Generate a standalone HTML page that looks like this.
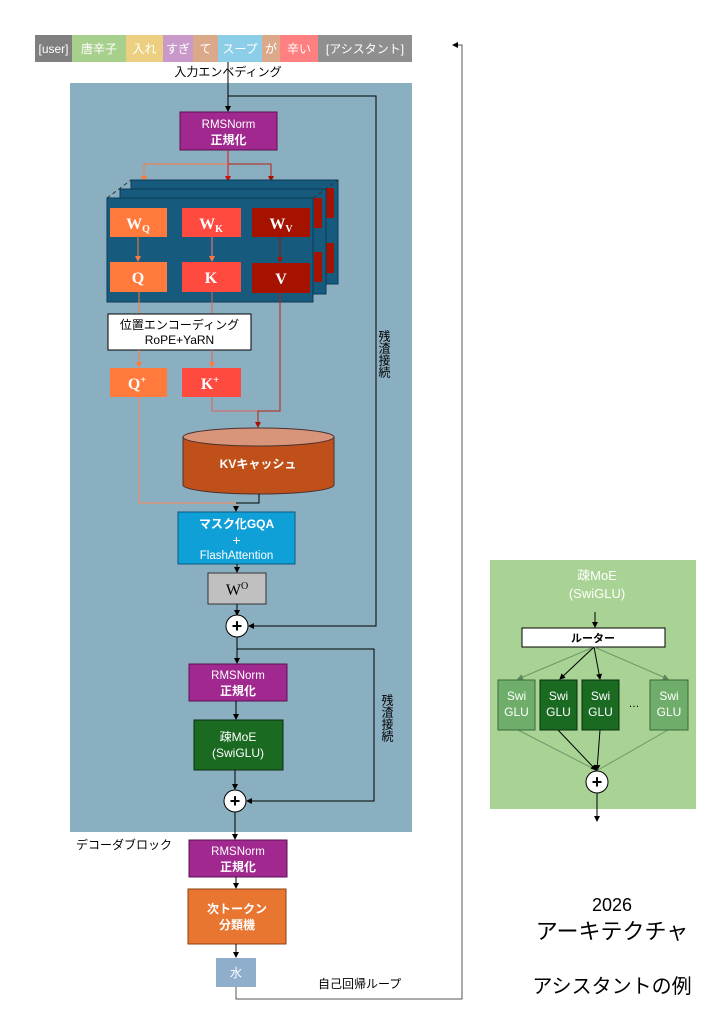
<!DOCTYPE html>
<html><head><meta charset="utf-8"><style>
html,body{margin:0;padding:0;background:#fff;}
svg{display:block;font-family:"Liberation Sans","Noto Sans CJK JP",sans-serif;}
.w{fill:#fff;}
.serif{font-family:"Liberation Serif","Noto Serif CJK SC",serif;font-weight:bold;}
</style></head><body>
<svg width="720" height="1012" viewBox="0 0 720 1012" xmlns="http://www.w3.org/2000/svg">
<defs>
<marker id="a" markerWidth="6" markerHeight="6" refX="5" refY="3" orient="auto"><path d="M0,0L6,3L0,6z" fill="#000"/></marker>
<marker id="ar" markerWidth="6" markerHeight="6" refX="5" refY="3" orient="auto"><path d="M0,0L6,3L0,6z" fill="#d01010"/></marker>
<marker id="ao" markerWidth="6" markerHeight="6" refX="5" refY="3" orient="auto"><path d="M0,0L6,3L0,6z" fill="#ff7a3c"/></marker>
<marker id="ad" markerWidth="6" markerHeight="6" refX="5" refY="3" orient="auto"><path d="M0,0L6,3L0,6z" fill="#a51200"/></marker>
<marker id="ag" markerWidth="6" markerHeight="6" refX="5" refY="3" orient="auto"><path d="M0,0L6,3L0,6z" fill="#5a8a5a"/></marker>
</defs>
<!-- token bar -->
<g font-size="12" text-anchor="middle">
<rect x="35" y="35" width="37" height="27" fill="#7f7f7f"/><text x="53.5" y="53" class="w">[user]</text>
<rect x="72" y="35" width="54" height="27" fill="#a8d08d"/><text x="99" y="53" class="w">唐辛子</text>
<rect x="126" y="35" width="37" height="27" fill="#eccf80"/><text x="144.5" y="53" class="w">入れ</text>
<rect x="163" y="35" width="30" height="27" fill="#c99ac9"/><text x="178" y="53" class="w">すぎ</text>
<rect x="193" y="35" width="25" height="27" fill="#dca88a"/><text x="205.5" y="53" class="w">て</text>
<rect x="218" y="35" width="44" height="27" fill="#8ccde8"/><text x="240" y="53" class="w">スープ</text>
<rect x="262" y="35" width="18" height="27" fill="#dca88a"/><text x="271" y="53" class="w">が</text>
<rect x="280" y="35" width="38" height="27" fill="#ff8080"/><text x="299" y="53" class="w">辛い</text>
<rect x="318" y="35" width="94" height="27" fill="#8f8f8f"/><text x="365" y="53" class="w">[アシスタント]</text>
</g>
<text x="228" y="76" font-size="12" text-anchor="middle">入力エンベディング</text>
<!-- panel -->
<rect x="70" y="83" width="342" height="749" fill="#8aafc1"/>
<line x1="228" y1="62" x2="228" y2="111" stroke="#000" marker-end="url(#a)"/>
<polyline points="228,96 376,96 376,626 249,626" fill="none" stroke="#000" marker-end="url(#a)"/>
<rect x="180" y="112" width="97" height="38" fill="#a0288f" stroke="#5a1050"/>
<text x="228.5" y="128" font-size="11.5" text-anchor="middle" class="w">RMSNorm</text>
<text x="228.5" y="144" font-size="12" text-anchor="middle" class="w" font-weight="bold">正規化</text>
<line x1="228" y1="150" x2="228" y2="181" stroke="#e01010" marker-end="url(#ar)"/>
<polyline points="228,164 144,164 144,181" fill="none" stroke="#ff7a3c" marker-end="url(#ao)"/>
<polyline points="228,164 271,164 271,181" fill="none" stroke="#b82010" marker-end="url(#ad)"/>
<!-- stack -->
<rect x="131" y="180" width="207" height="104" fill="#165a7e" stroke="#0d3a55"/>
<rect x="326" y="188" width="8" height="30" fill="#a51200"/><rect x="326" y="243" width="8" height="30" fill="#a51200"/>
<rect x="120" y="189" width="206" height="105" fill="#165a7e" stroke="#0d3a55"/>
<rect x="314" y="198" width="8" height="30" fill="#a51200"/><rect x="314" y="252" width="8" height="30" fill="#a51200"/>
<line x1="107" y1="198" x2="131" y2="180" stroke="#333" stroke-dasharray="4,3"/>
<line x1="313" y1="198" x2="338" y2="180" stroke="#333" stroke-dasharray="4,3"/>
<rect x="107" y="198" width="206" height="104" fill="#165a7e" stroke="#0d3a55"/>
<g class="serif" text-anchor="middle" fill="#fff">
<rect x="110" y="208" width="57" height="29" fill="#ff7a3c"/><text x="138" y="229" font-size="16">W<tspan font-size="10" dy="3">Q</tspan></text>
<rect x="182" y="208" width="59" height="29" fill="#ff4a40"/><text x="211" y="229" font-size="16">W<tspan font-size="10" dy="3">K</tspan></text>
<rect x="252" y="208" width="58" height="29" fill="#a51200"/><text x="281" y="229" font-size="16">W<tspan font-size="10" dy="3">V</tspan></text>
<rect x="110" y="262" width="57" height="30" fill="#ff7a3c"/><text x="138" y="283" font-size="16">Q</text>
<rect x="182" y="262" width="59" height="30" fill="#ff4a40"/><text x="211" y="283" font-size="16">K</text>
<rect x="252" y="263" width="58" height="30" fill="#a51200"/><text x="281" y="284" font-size="16">V</text>
</g>
<line x1="138" y1="237" x2="138" y2="261" stroke="#ff7a3c" marker-end="url(#ao)"/>
<line x1="212" y1="237" x2="212" y2="261" stroke="#ff7a7a" marker-end="url(#ao)"/>
<line x1="280" y1="237" x2="280" y2="262" stroke="#a51200" marker-end="url(#ad)"/>
<line x1="139" y1="292" x2="139" y2="314" stroke="#ff7a3c"/>
<line x1="212" y1="292" x2="212" y2="314" stroke="#e06060"/>
<rect x="108" y="314" width="143" height="36" fill="#fff" stroke="#000"/>
<text x="179.5" y="329" font-size="12" text-anchor="middle">位置エンコーディング</text>
<text x="179.5" y="344" font-size="12" text-anchor="middle">RoPE+YaRN</text>
<line x1="139" y1="350" x2="139" y2="367" stroke="#ff7a3c" marker-end="url(#ao)"/>
<line x1="212" y1="350" x2="212" y2="367" stroke="#e06060" marker-end="url(#ao)"/>
<g class="serif" text-anchor="middle" fill="#fff">
<rect x="110" y="368" width="57" height="29" fill="#ff7a3c"/><text x="137" y="389" font-size="16">Q<tspan font-size="10" dy="-6">+</tspan></text>
<rect x="182" y="368" width="59" height="29" fill="#ff4a40"/><text x="210" y="389" font-size="16">K<tspan font-size="10" dy="-6">+</tspan></text>
</g>
<polyline points="212,397 212,411 280,411" fill="none" stroke="#e06060"/>
<polyline points="280,293 280,411 258,411 258,427" fill="none" stroke="#b82010" marker-end="url(#ad)"/>
<polyline points="139,397 139,503 236,503 236,511" fill="none" stroke="#ff8a5c" marker-end="url(#a)"/>
<!-- cylinder -->
<path d="M183,437 L183,485 A75.5,9 0 0 0 334,485 L334,437 Z" fill="#c0501a" stroke="#4a3030"/>
<ellipse cx="258.5" cy="437" rx="75.5" ry="9" fill="#d9957a" stroke="#4a3030"/>
<text x="258" y="468" font-size="12" text-anchor="middle" class="w" font-weight="bold">KVキャッシュ</text>
<polyline points="259,494 259,503 236,503" fill="none" stroke="#000"/>
<rect x="178" y="512" width="117" height="52" fill="#10a0d8" stroke="#0a5a80"/>
<text x="236.5" y="528" font-size="12" text-anchor="middle" class="w" font-weight="bold">マスク化GQA</text>
<text x="236.5" y="545" font-size="14" text-anchor="middle" class="w">+</text>
<text x="236.5" y="559" font-size="11.5" text-anchor="middle" class="w">FlashAttention</text>
<line x1="237" y1="564" x2="237" y2="572" stroke="#000" marker-end="url(#a)"/>
<rect x="208" y="573" width="58" height="31" fill="#c0c0c0" stroke="#333"/>
<text x="237" y="595" font-size="16" text-anchor="middle" font-family="Liberation Serif,serif">W<tspan font-size="10" dy="-6">O</tspan></text>
<line x1="237" y1="604" x2="237" y2="615" stroke="#000" marker-end="url(#a)"/>
<circle cx="237" cy="626" r="11" fill="#fff" stroke="#000"/>
<text x="237" y="632" font-size="18" text-anchor="middle" font-weight="bold">+</text>
<line x1="237" y1="637" x2="237" y2="663" stroke="#000" marker-end="url(#a)"/>
<polyline points="237,649 374,649 374,801 247,801" fill="none" stroke="#000" marker-end="url(#a)"/>
<rect x="189" y="664" width="98" height="37" fill="#a0288f" stroke="#5a1050"/>
<text x="238" y="679" font-size="11.5" text-anchor="middle" class="w">RMSNorm</text>
<text x="238" y="695" font-size="12" text-anchor="middle" class="w" font-weight="bold">正規化</text>
<line x1="236" y1="701" x2="236" y2="719" stroke="#000" marker-end="url(#a)"/>
<rect x="194" y="720" width="89" height="50" fill="#1b6a22" stroke="#0a3010"/>
<text x="238" y="741" font-size="12" text-anchor="middle" class="w">疎MoE</text>
<text x="238" y="757" font-size="12" text-anchor="middle" class="w">(SwiGLU)</text>
<line x1="235" y1="770" x2="235" y2="789" stroke="#000" marker-end="url(#a)"/>
<circle cx="235" cy="801" r="11" fill="#fff" stroke="#000"/>
<text x="235" y="807" font-size="18" text-anchor="middle" font-weight="bold">+</text>
<g font-size="12" writing-mode="tb" text-anchor="start">
<text x="384" y="330" style="writing-mode:vertical-rl">残渣接続</text>
<text x="387" y="694" style="writing-mode:vertical-rl">残渣接続</text>
</g>
<line x1="235" y1="812" x2="235" y2="839" stroke="#000" marker-end="url(#a)"/>
<text x="76" y="849" font-size="12">デコーダブロック</text>
<rect x="189" y="840" width="98" height="37" fill="#a0288f" stroke="#5a1050"/>
<text x="238" y="855" font-size="11.5" text-anchor="middle" class="w">RMSNorm</text>
<text x="238" y="871" font-size="12" text-anchor="middle" class="w" font-weight="bold">正規化</text>
<line x1="236" y1="877" x2="236" y2="888" stroke="#000" marker-end="url(#a)"/>
<rect x="188" y="889" width="98" height="55" fill="#e87530" stroke="#8a4010"/>
<text x="237" y="913" font-size="12" text-anchor="middle" class="w" font-weight="bold">次トークン</text>
<text x="237" y="929" font-size="12" text-anchor="middle" class="w" font-weight="bold">分類機</text>
<line x1="236" y1="944" x2="236" y2="957" stroke="#000" marker-end="url(#a)"/>
<rect x="216" y="958" width="40" height="29" fill="#8faecb"/>
<text x="236" y="977" font-size="12" text-anchor="middle" class="w">水</text>
<polyline points="236,987 236,999 462,999 462,45 453,45" fill="none" stroke="#555" marker-end="url(#a)"/>
<text x="318" y="988" font-size="12">自己回帰ループ</text>
<!-- right MoE -->
<rect x="490" y="560" width="206" height="249" fill="#a8d394"/>
<text x="597" y="580" font-size="13" text-anchor="middle" class="w">疎MoE</text>
<text x="597" y="598" font-size="13" text-anchor="middle" class="w">(SwiGLU)</text>
<line x1="595" y1="612" x2="595" y2="627" stroke="#000" marker-end="url(#a)"/>
<rect x="522" y="628" width="143" height="19" fill="#fff" stroke="#000"/>
<text x="593" y="642" font-size="11" text-anchor="middle" font-weight="bold">ルーター</text>
<g stroke="#6a9a6a" fill="none">
<line x1="594" y1="647" x2="518" y2="679" marker-end="url(#ag)"/>
<line x1="594" y1="647" x2="668" y2="679" marker-end="url(#ag)"/>
<line x1="518" y1="730" x2="596" y2="770"/>
<line x1="668" y1="730" x2="598" y2="770"/>
</g>
<g stroke="#000" fill="none">
<line x1="594" y1="647" x2="560" y2="679" marker-end="url(#a)"/>
<line x1="594" y1="647" x2="600" y2="679" marker-end="url(#a)"/>
<line x1="558" y1="730" x2="596" y2="770" marker-end="url(#a)"/>
<line x1="600" y1="730" x2="597" y2="770" marker-end="url(#a)"/>
</g>
<g font-size="12" text-anchor="middle" fill="#fff">
<rect x="498" y="680" width="37" height="50" fill="#6fae6a" stroke="#3a6a3a"/><text x="516.5" y="700">Swi</text><text x="516.5" y="716">GLU</text>
<rect x="540" y="680" width="37" height="50" fill="#1b6a22" stroke="#0a3010"/><text x="558.5" y="700">Swi</text><text x="558.5" y="716">GLU</text>
<rect x="582" y="680" width="37" height="50" fill="#1b6a22" stroke="#0a3010"/><text x="600.5" y="700">Swi</text><text x="600.5" y="716">GLU</text>
<rect x="650" y="680" width="38" height="50" fill="#6fae6a" stroke="#3a6a3a"/><text x="669" y="700">Swi</text><text x="669" y="716">GLU</text>
</g>
<text x="634" y="707" font-size="11" text-anchor="middle">…</text>
<circle cx="597" cy="782" r="11" fill="#fff" stroke="#000"/>
<text x="597" y="788" font-size="18" text-anchor="middle" font-weight="bold">+</text>
<line x1="597" y1="793" x2="597" y2="821" stroke="#000" marker-end="url(#a)"/>
<text x="612" y="911" font-size="18" text-anchor="middle">2026</text>
<text x="612" y="939" font-size="22" text-anchor="middle">アーキテクチャ</text>
<text x="612" y="993" font-size="20" text-anchor="middle">アシスタントの例</text>
</svg>
</body></html>
